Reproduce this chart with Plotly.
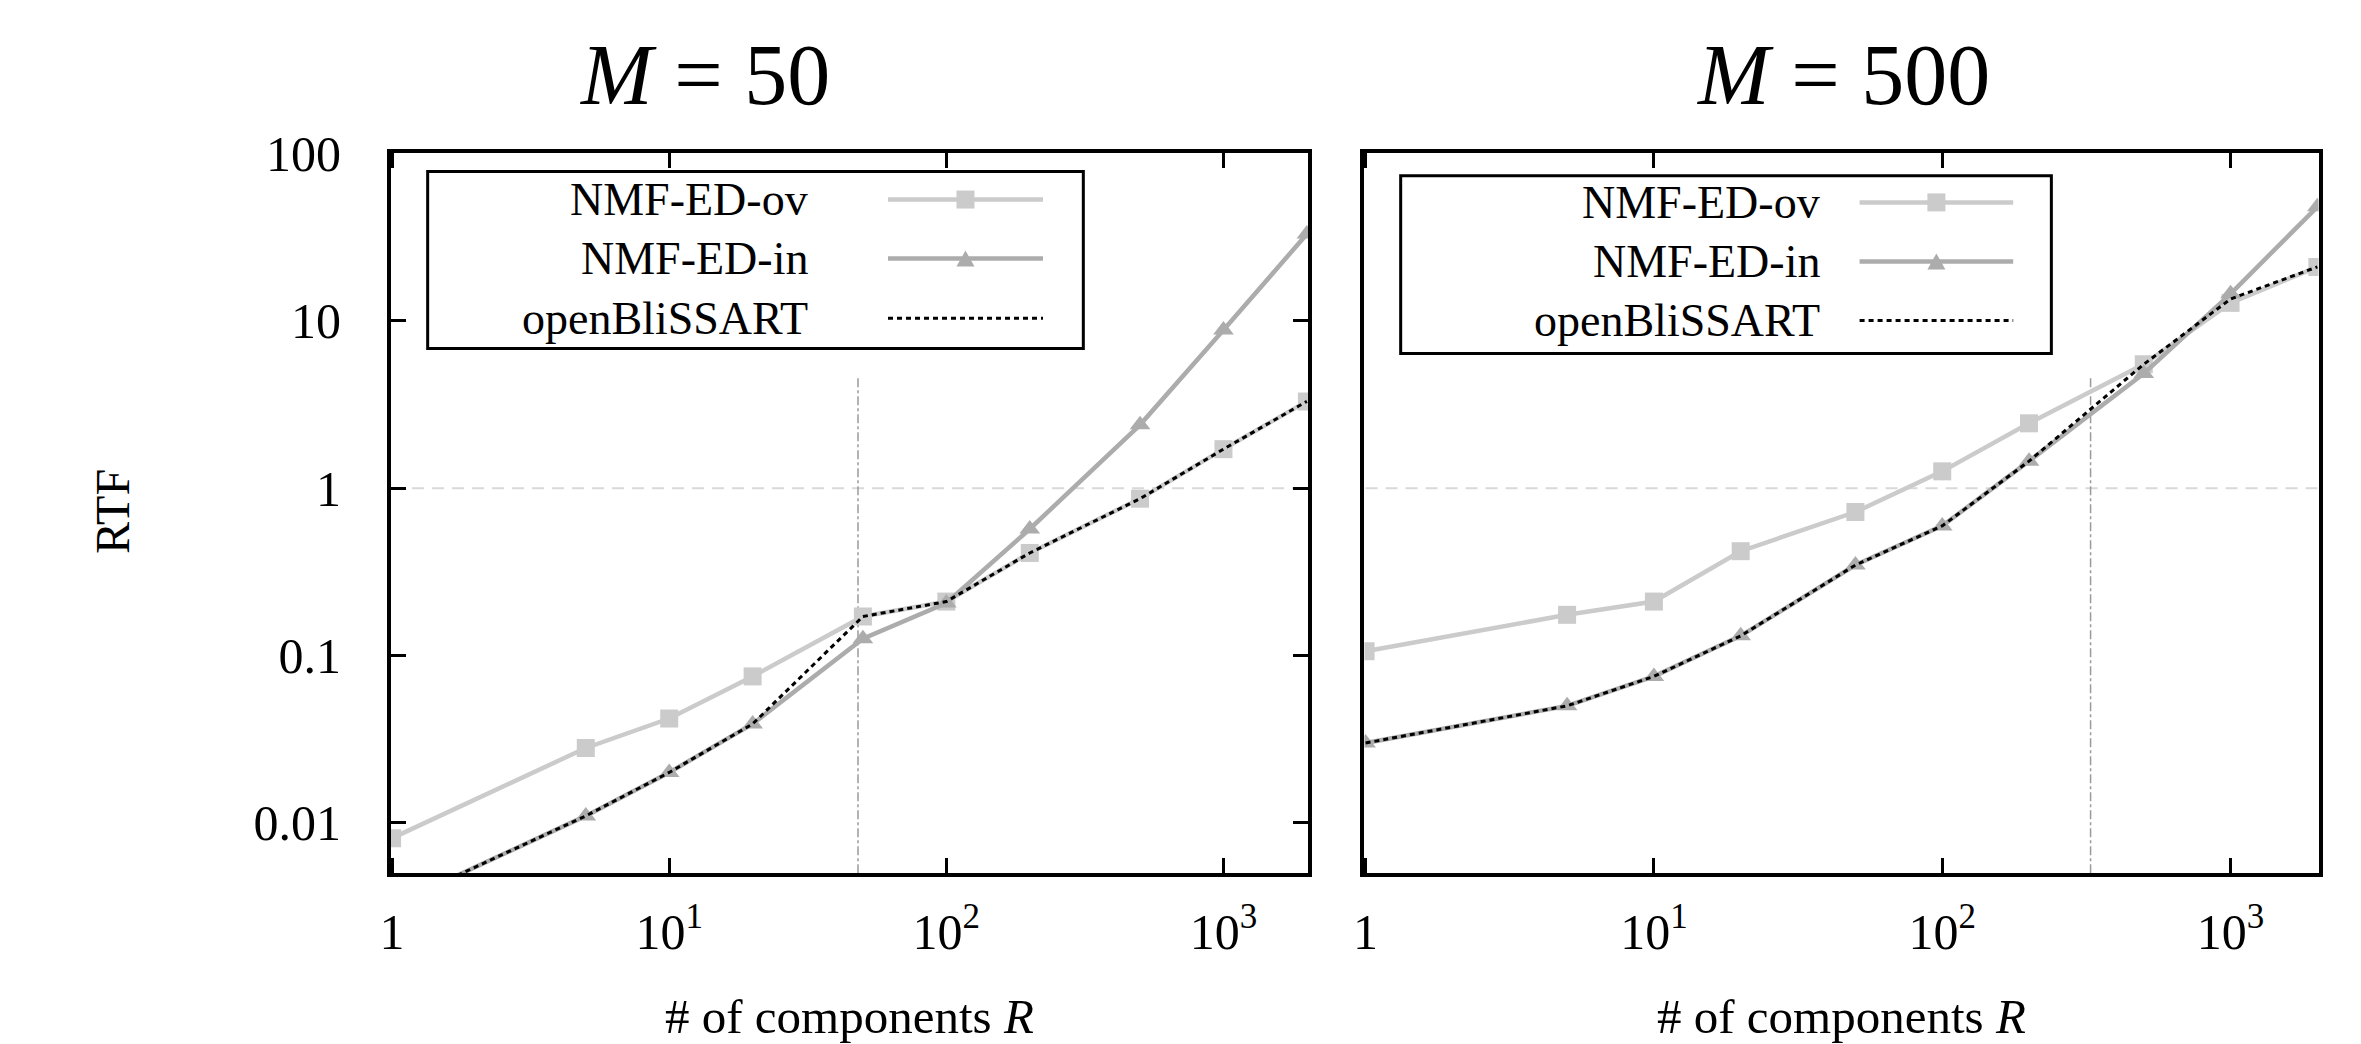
import plotly.graph_objects as go
import math

# ---------------- data ----------------
components = [1, 5, 10, 20, 50, 100, 200, 500, 1000, 2000]

# M = 50
m50_ov = [0.0081, 0.028, 0.042, 0.075, 0.171, 0.21, 0.41, 0.865, 1.71, 3.3]
m50_in = [0.0032, 0.011, 0.020, 0.039, 0.126, 0.206, 0.57, 2.39, 8.8, 33.0]
m50_ob = [0.0032, 0.011, 0.020, 0.039, 0.171, 0.21, 0.41, 0.865, 1.71, 3.3]

# M = 500
m500_ov = [0.106, 0.175, 0.21, 0.42, 0.72, 1.26, 2.44, 5.5, 12.8, 21.0]
m500_in = [0.030, 0.050, 0.075, 0.131, 0.347, 0.595, 1.45, 4.84, 14.5, 48.0]
m500_ob = [0.030, 0.050, 0.075, 0.131, 0.347, 0.595, 1.45, 5.5, 13.5, 21.0]

series_names = ["NMF-ED-ov", "NMF-ED-in", "openBliSSART"]
panel_titles = ["<i>M</i> = 50", "<i>M</i> = 500"]
x_title = "# of components <i>R</i>"
y_title = "RTF"

x_tickvals = [1, 10, 100, 1000]
x_ticktext = ["1", "10<sup>1</sup>", "10<sup>2</sup>", "10<sup>3</sup>"]
y_tickvals = [0.01, 0.1, 1, 10, 100]
y_ticktext = ["0.01", "0.1", "1", "10", "100"]

ref_rtf = 1.0                 # real-time threshold line
vline_x = [48, 327]           # dash-dot marker per panel
vline_top = 4.7

x_range = [1.0, 2000.0]
y_range = [0.005, 100.0]

# ---------------- style ----------------
FONT = "Liberation Serif"
C_OV = "#cbcbcb"
C_IN = "#acacac"
C_OB = "#000000"
LW = 4.5

fig = go.Figure()

panels = [
    dict(xa="x", ya="y", ov=m50_ov, inn=m50_in, ob=m50_ob, vx=vline_x[0]),
    dict(xa="x2", ya="y2", ov=m500_ov, inn=m500_in, ob=m500_ob, vx=vline_x[1]),
]

for p in panels:
    fig.add_trace(go.Scatter(x=x_range, y=[ref_rtf, ref_rtf], mode="lines",
                             line=dict(color="#d9d9d9", width=2, dash="12px,8px"),
                             xaxis=p["xa"], yaxis=p["ya"], showlegend=False, hoverinfo="skip"))
    fig.add_trace(go.Scatter(x=[p["vx"], p["vx"]], y=[y_range[0], vline_top], mode="lines",
                             line=dict(color="#9a9a9a", width=1.5, dash="dashdot"),
                             xaxis=p["xa"], yaxis=p["ya"], showlegend=False, hoverinfo="skip"))
    fig.add_trace(go.Scatter(x=components, y=p["ov"], mode="lines+markers", name=series_names[0],
                             line=dict(color=C_OV, width=LW),
                             marker=dict(symbol="square", size=18, color=C_OV),
                             xaxis=p["xa"], yaxis=p["ya"], showlegend=False))
    fig.add_trace(go.Scatter(x=components, y=p["inn"], mode="lines+markers", name=series_names[1],
                             line=dict(color=C_IN, width=LW),
                             marker=dict(symbol="triangle-up", size=18, color=C_IN),
                             xaxis=p["xa"], yaxis=p["ya"], showlegend=False))
    fig.add_trace(go.Scatter(x=components, y=p["ob"], mode="lines", name=series_names[2],
                             line=dict(color=C_OB, width=3, dash="5px,4px"),
                             xaxis=p["xa"], yaxis=p["ya"], showlegend=False))

dom_x = [[0.1656, 0.554], [0.5779, 0.982]]
dom_y = [0.1636, 0.853]

xr = [math.log10(x_range[0]) - 0.004, math.log10(x_range[1]) + 0.004]
yr = [math.log10(y_range[0]), math.log10(y_range[1])]

common_x = dict(type="log", range=xr, tickvals=x_tickvals, ticktext=x_ticktext,
                ticks="inside", ticklen=15, tickwidth=2.5, tickcolor="black",
                showline=True, linecolor="black", linewidth=4, mirror="ticks",
                showgrid=False, zeroline=False, automargin=False,
                tickfont=dict(family=FONT, size=50, color="black"),
                ticklabelstandoff=12)
common_y = dict(type="log", range=yr, tickvals=y_tickvals, ticktext=y_ticktext,
                showline=True, linecolor="black", linewidth=4,
                showgrid=False, zeroline=False, domain=dom_y, automargin=False,
                tickfont=dict(family=FONT, size=50, color="black"))

fig.update_layout(
    xaxis=dict(common_x, domain=dom_x[0], anchor="y"),
    xaxis2=dict(common_x, domain=dom_x[1], anchor="y2"),
    yaxis=dict(common_y, anchor="x", ticks="inside", ticklen=15, tickwidth=2.5,
               tickcolor="black", mirror="ticks", ticklabelstandoff=36),
    yaxis2=dict(common_y, anchor="x2", ticks="", showticklabels=False, mirror=True),
)

# ---------------- titles ----------------
ann = []
ann.append(dict(text=panel_titles[0], x=0.2986, y=0.928, xref="paper", yref="paper",
                showarrow=False, font=dict(family=FONT, size=86, color="black"),
                xanchor="center", yanchor="middle"))
ann.append(dict(text=panel_titles[1], x=0.7806, y=0.928, xref="paper", yref="paper",
                showarrow=False, font=dict(family=FONT, size=86, color="black"),
                xanchor="center", yanchor="middle"))
for i in range(2):
    ann.append(dict(text=x_title, x=(dom_x[i][0] + dom_x[i][1]) / 2, y=0.026,
                    xref="paper", yref="paper", showarrow=False,
                    font=dict(family=FONT, size=49, color="black"),
                    xanchor="center", yanchor="middle"))
ann.append(dict(text=y_title, x=0.0479, y=0.5096, xref="paper", yref="paper",
                showarrow=False, textangle=-90,
                font=dict(family=FONT, size=48, color="black"),
                xanchor="center", yanchor="middle"))

# ---------------- custom legends (text left, sample right) ----------------
W, H = 2361, 1044
shapes = []

legend_specs = [
    dict(box=[0.040, 0.755, 0.729, 0.975], text_r=0.457, samp=[0.542, 0.711],
         rows=[0.936, 0.854, 0.771]),
    dict(box=[0.038, 0.720, 0.722, 0.969], text_r=0.480, samp=[0.519, 0.680],
         rows=[0.932, 0.850, 0.768]),
]

for i, spec in enumerate(legend_specs):
    dx0, dx1 = dom_x[i]
    dy0, dy1 = dom_y
    px = lambda f: dx0 + f * (dx1 - dx0)
    py = lambda f: dy0 + f * (dy1 - dy0)
    b = spec["box"]
    shapes.append(dict(type="rect", xref="paper", yref="paper",
                       x0=px(b[0]), x1=px(b[1]), y0=py(b[2]), y1=py(b[3]),
                       line=dict(color="black", width=3), fillcolor="white", layer="above"))
    styles = [
        dict(color=C_OV, width=LW, dash="solid", mk="square"),
        dict(color=C_IN, width=LW, dash="solid", mk="tri"),
        dict(color=C_OB, width=3, dash="5px,4px", mk=None),
    ]
    for r, (name, st) in enumerate(zip(series_names, styles)):
        yy = py(spec["rows"][r])
        ann.append(dict(text=name, x=px(spec["text_r"]), y=yy, xref="paper", yref="paper",
                        showarrow=False, xanchor="right", yanchor="middle",
                        font=dict(family=FONT, size=46, color="black")))
        shapes.append(dict(type="line", xref="paper", yref="paper",
                           x0=px(spec["samp"][0]), x1=px(spec["samp"][1]), y0=yy, y1=yy,
                           line=dict(color=st["color"], width=st["width"], dash=st["dash"]),
                           layer="above"))
        cx = px((spec["samp"][0] + spec["samp"][1]) / 2)
        if st["mk"] == "square":
            hw, hh = 9 / W, 9 / H
            shapes.append(dict(type="rect", xref="paper", yref="paper",
                               x0=cx - hw, x1=cx + hw, y0=yy - hh, y1=yy + hh,
                               line=dict(width=0), fillcolor=st["color"], layer="above"))
        elif st["mk"] == "tri":
            hw, hh = 9 / W, 8 / H
            path = "M {},{} L {},{} L {},{} Z".format(cx - hw, yy - hh, cx + hw, yy - hh, cx, yy + hh)
            shapes.append(dict(type="path", xref="paper", yref="paper", path=path,
                               line=dict(width=0), fillcolor=st["color"], layer="above"))

fig.update_layout(
    annotations=ann, shapes=shapes,
    width=W, height=H,
    margin=dict(l=0, r=0, t=0, b=0, autoexpand=False),
    paper_bgcolor="white", plot_bgcolor="white",
    showlegend=False,
    font=dict(family=FONT, color="black"),
)

fig.write_html("out.html", config={"displayModeBar": False},
               post_script="document.body.style.margin='0';document.body.style.overflow='hidden';")
